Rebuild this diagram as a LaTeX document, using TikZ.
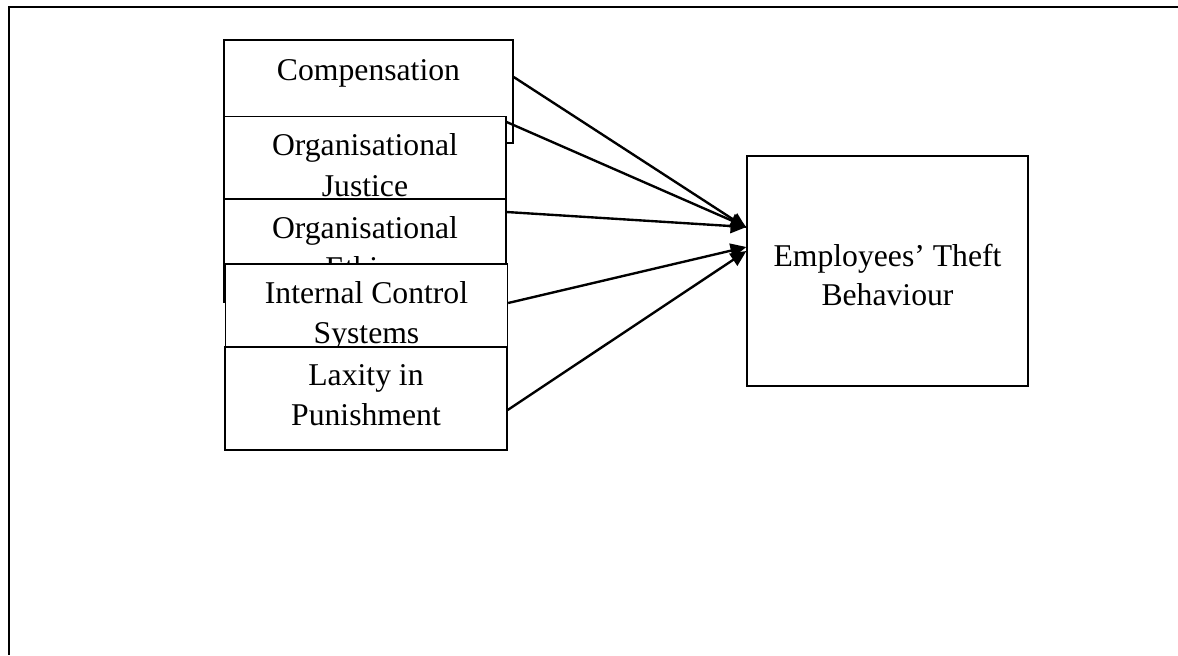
\documentclass[tikz,border=0pt]{standalone}
\usepackage{fontspec}
\setmainfont{Liberation Serif}
\usetikzlibrary{positioning, arrows.meta, calc}

\begin{document}
\begin{tikzpicture}[
    x=0.3788pt, y=-0.3788pt,
    >={Triangle[length=6pt, width=5.4pt]},
    factor/.style={
        draw=black,
        fill=white,
        line width=0.5pt,
        minimum width=106.8pt,
        minimum height=39pt,
        inner sep=0pt,
    },
    factortext/.style={
        anchor=north,
        inner sep=0pt,
        align=center,
        font=\fontsize{12}{15.5}\selectfont,
    },
    link/.style={->, line width=0.9pt},
]
\useasboundingbox (0,0) rectangle (1178,655);

% -- Page frame
\draw[line width=1pt] (1178,7) -- (9,7) -- (9,655);

% -- Compensation
\node[factor, minimum width=109.5pt] (comp) at (368.5, 91.5) {};
\node[factortext] (comptext) at ([yshift=-7.5pt]comp.north) {Compensation};

% -- Organisational justice
\node[factor] (justice) at (365, 168) {};
\node[factortext] (justicetext) at ([yshift=-6.5pt]justice.north) {Organisational\\Justice};

% -- Organisational ethics
\node[factor] (ethics) at (365, 250.5) {};
\node[factortext] (ethicstext) at ([yshift=-6.5pt]ethics.north) {Organisational\\Ethics};

% -- Internal control systems
\node[factor] (control) at (366.5, 315.5) {};
\node[factortext] (controltext) at ([yshift=-6.5pt]control.north) {Internal Control\\Systems};

% -- Laxity in punishment
\node[factor] (laxity) at (366, 398.5) {};
\node[factortext] (laxitytext) at ([yshift=-6.5pt]laxity.north) {Laxity in\\Punishment};

% -- Outcome
\node[factor, minimum width=106.4pt, minimum height=87.1pt] (theft) at (887.5, 271) {};
\node[factortext, anchor=center, font=\fontsize{12}{14.5}\selectfont] (thefttext)
    at ([yshift=-1.5pt]theft.center) {Employees' Theft\\Behaviour};

% ===== Arrows =====
\draw[link] (comp.east |- 0,77) -- (theft.west |- 0,228);
\draw[link] (justice.east |- 0,122) -- (theft.west |- 0,227);
\draw[link] (ethics.east |- 0,212) -- (theft.west |- 0,227);
\draw[link] (control.east |- 0,303) -- (theft.west |- 0,247);
\draw[link] (laxity.east |- 0,410) -- (theft.west |- 0,251);

\end{tikzpicture}
\end{document}
